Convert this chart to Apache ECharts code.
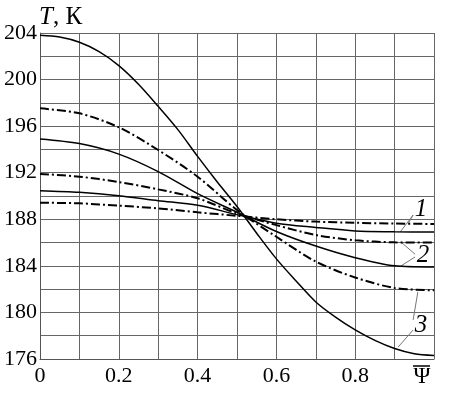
<!DOCTYPE html>
<html>
<head>
<meta charset="utf-8">
<style>
  html, body { margin: 0; padding: 0; background: #fff; }
  #chart { width: 450px; height: 393px; }
</style>
<script src="https://cdn.jsdelivr.net/npm/echarts@6/dist/echarts.min.js"></script>
</head>
<body>
<div id="chart"></div>
<script>
// psi values (x axis)
const psi = [0, 0.1, 0.2, 0.3, 0.4, 0.5, 0.6, 0.7, 0.8, 0.9, 1.0];
// finer grid for the steep curve 3
const psiFine = [0, 0.05, 0.1, 0.15, 0.2, 0.25, 0.3, 0.35, 0.4, 0.45, 0.5, 0.55, 0.6, 0.65, 0.7, 0.75, 0.8, 0.85, 0.9, 0.95, 1.0];

// temperature curves, K
const solid3 = [203.8, 203.65, 203.2, 202.4, 201.2, 199.6, 197.7, 195.7, 193.4, 191.2, 189.1, 186.8, 184.6, 182.7, 180.9, 179.6, 178.5, 177.6, 176.9, 176.45, 176.3];
const dash3  = [197.53, 197.1, 195.9, 193.95, 191.66, 188.8, 186.5, 184.37, 183.0, 182.1, 181.9];
const solid2 = [194.9, 194.5, 193.6, 192.1, 190.2, 188.6, 186.95, 185.7, 184.7, 184.0, 183.9];
const dash2  = [191.9, 191.66, 191.2, 190.57, 189.8, 188.5, 187.5, 186.65, 186.2, 186.02, 186.0];
const solid1 = [190.46, 190.32, 190.03, 189.6, 189.2, 188.4, 187.66, 187.3, 187.0, 186.93, 186.9];
const dash1  = [189.42, 189.37, 189.17, 188.94, 188.6, 188.3, 188.0, 187.8, 187.7, 187.63, 187.6];

const yTicks = [176, 180, 184, 188, 192, 196, 200, 204];
const xTicks = [0, 0.2, 0.4, 0.6, 0.8];

// curve labels and their leader lines, in data coords
const curveLabels = [
  { text: '1', at: [0.967, 188.88] },
  { text: '2', at: [0.972, 184.93] },
  { text: '3', at: [0.967, 178.9] }
];
const leaders = [
  [[0.947, 188.37], [0.914, 186.9]],
  [[0.947, 188.37], [0.934, 187.6]],
  [[0.952, 185.0], [0.916, 186.05]],
  [[0.952, 184.76], [0.916, 183.99]],
  [[0.947, 179.35], [0.959, 181.76]],
  [[0.947, 178.49], [0.909, 177.03]]
];

const FONT = 'Liberation Serif';
const solidStyle = { color: '#000', width: 1.5, type: 'solid' };
const dashStyle = { color: '#000', width: 2, type: [9, 3, 2, 3] };

function mkSeries(xs, vals, style) {
  return {
    type: 'line',
    data: xs.map((x, i) => [x, vals[i]]),
    smooth: 0.3,
    showSymbol: false,
    lineStyle: style,
    animation: false,
    silent: true
  };
}

const chart = echarts.init(document.getElementById('chart'), null, { renderer: 'canvas' });

chart.setOption({
  backgroundColor: '#fff',
  grid: { left: 40, top: 33, right: 16, bottom: 34, containLabel: false },
  xAxis: {
    type: 'value',
    min: 0,
    max: 1,
    interval: 0.1,
    axisLine: { show: true, lineStyle: { color: '#555', width: 1 } },
    axisTick: { show: false },
    splitLine: { show: true, lineStyle: { color: '#666', width: 1 } },
    axisLabel: {
      margin: 6,
      fontFamily: FONT,
      fontSize: 22,
      color: '#000',
      showMaxLabel: true,
      formatter: function (v) {
        if (Math.abs(v - 1) < 1e-6) return '{psi|Ψ}';
        const hit = xTicks.find(t => Math.abs(t - v) < 1e-6);
        return hit === undefined ? '' : String(hit);
      },
      rich: {
        psi: { fontFamily: FONT, fontSize: 23, color: '#000', padding: [0, 24, 0, 0] }
      }
    }
  },
  yAxis: {
    type: 'value',
    min: 176,
    max: 204,
    interval: 2,
    axisLine: { show: true, lineStyle: { color: '#555', width: 1 } },
    axisTick: { show: false },
    splitLine: { show: true, lineStyle: { color: '#666', width: 1 } },
    axisLabel: {
      margin: 3,
      fontFamily: FONT,
      fontSize: 22,
      color: '#000',
      formatter: function (v) {
        return yTicks.indexOf(Math.round(v)) >= 0 && Math.abs(v - Math.round(v)) < 1e-6 ? String(v) : '';
      }
    }
  },
  series: [
    mkSeries(psiFine, solid3, solidStyle),
    mkSeries(psi, dash3, dashStyle),
    mkSeries(psi, solid2, solidStyle),
    mkSeries(psi, dash2, dashStyle),
    mkSeries(psi, solid1, solidStyle),
    mkSeries(psi, dash1, dashStyle)
  ]
});

// annotations placed through the chart's own scales
const toPx = p => chart.convertToPixel({ gridIndex: 0 }, p);
const graphics = [];
leaders.forEach(seg => {
  const a = toPx(seg[0]), b = toPx(seg[1]);
  graphics.push({
    type: 'line',
    shape: { x1: a[0], y1: a[1], x2: b[0], y2: b[1] },
    style: { stroke: '#777', lineWidth: 1 },
    silent: true
  });
});
curveLabels.forEach(l => {
  const p = toPx(l.at);
  graphics.push({
    type: 'text',
    x: p[0],
    y: p[1],
    style: {
      text: l.text,
      fontFamily: FONT,
      fontStyle: 'italic',
      fontSize: 25,
      fill: '#000',
      align: 'center',
      verticalAlign: 'middle'
    },
    silent: true
  });
});
// y axis title
const axisTop = toPx([0, 204]);
graphics.push({
  type: 'text',
  x: axisTop[0] - 1,
  y: axisTop[1] - 16,
  style: {
    text: '{it|T}{n|, К}',
    align: 'left',
    verticalAlign: 'middle',
    rich: {
      it: { fontFamily: FONT, fontSize: 25, fontStyle: 'italic', fill: '#000' },
      n: { fontFamily: FONT, fontSize: 25, fill: '#000' }
    }
  },
  silent: true
});
// overbar of the psi axis symbol
const corner = toPx([1, 176]);
graphics.push({
  type: 'line',
  shape: { x1: corner[0] - 21, y1: corner[1] + 7, x2: corner[0] - 4, y2: corner[1] + 7 },
  style: { stroke: '#000', lineWidth: 1.5 },
  silent: true
});
chart.setOption({ graphic: graphics });
</script>
</body>
</html>
